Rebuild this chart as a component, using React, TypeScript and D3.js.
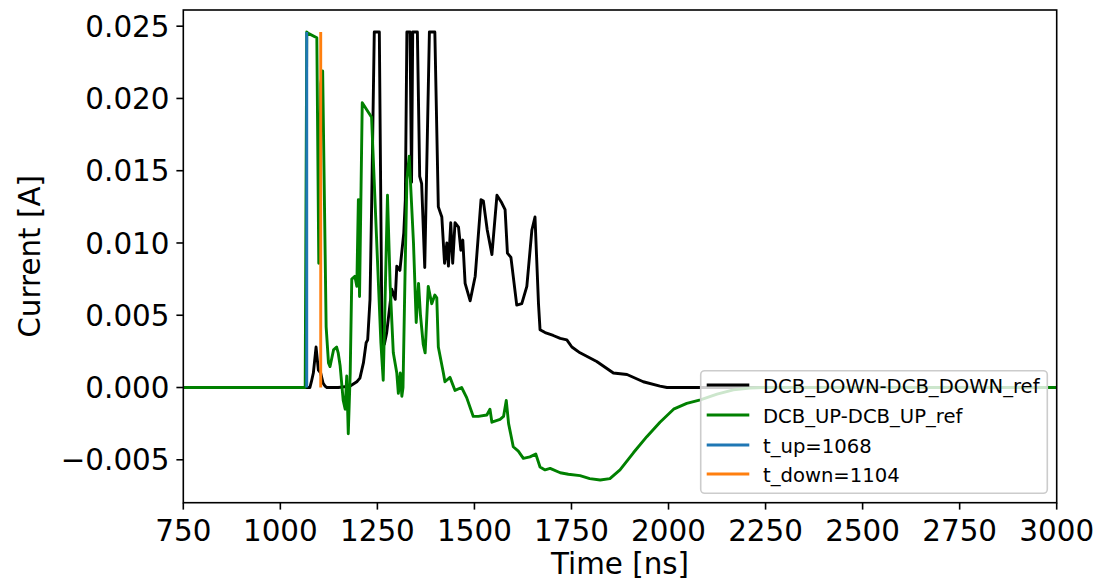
import React from "react";
import * as d3 from "d3";

const downT = [750, 1076, 1080, 1085, 1092, 1098, 1104, 1110, 1115, 1120, 1149, 1180, 1197, 1205, 1214, 1221, 1225, 1231, 1235, 1242, 1255, 1262, 1268, 1274, 1287, 1296, 1300, 1308, 1318, 1322, 1326, 1334, 1338, 1341, 1353, 1359, 1364, 1372, 1384, 1398, 1407, 1416, 1423, 1429, 1433, 1439, 1444, 1450, 1459, 1465, 1470, 1476, 1489, 1502, 1517, 1523, 1533, 1545, 1558, 1570, 1579, 1585, 1594, 1609, 1622, 1635, 1648, 1656, 1665, 1669, 1682, 1703, 1721, 1738, 1751, 1772, 1815, 1858, 1893, 1935, 1978, 1996, 3000];
const downV = [0, 0, 0.0004, 0.001, 0.0028, 0.0012, 0.001, 0.0003, 0.0001, 0, 0, 0.0001, 0.0004, 0.00065, 0.0017, 0.0031, 0.0033, 0.0061, 0.0123, 0.0246, 0.0246, 0.0028, 0.003, 0.0038, 0.0068, 0.0061, 0.0084, 0.0081, 0.0107, 0.013, 0.0246, 0.0246, 0.0142, 0.0246, 0.0246, 0.0146, 0.0141, 0.0083, 0.0246, 0.0246, 0.0125, 0.0118, 0.0086, 0.01, 0.0084, 0.0114, 0.0086, 0.0114, 0.0111, 0.0095, 0.0102, 0.0072, 0.006, 0.0077, 0.013, 0.0129, 0.0109, 0.0092, 0.0133, 0.0128, 0.0123, 0.0093, 0.009, 0.0057, 0.0058, 0.007, 0.0109, 0.0118, 0.0058, 0.004, 0.0038, 0.0036, 0.0034, 0.0033, 0.0028, 0.0024, 0.0018, 0.001, 0.0009, 0.0004, 0.0001, 0, 0];

const upT = [750, 1064, 1068, 1072, 1094, 1099, 1104, 1109, 1118, 1124, 1128, 1137, 1145, 1149, 1154, 1162, 1167, 1171, 1175, 1180, 1184, 1192, 1197, 1201, 1204, 1208, 1211, 1235, 1259, 1265, 1276, 1283, 1291, 1300, 1304, 1309, 1313, 1316, 1321, 1326, 1332, 1343, 1350, 1356, 1361, 1368, 1373, 1381, 1390, 1398, 1403, 1407, 1420, 1424, 1437, 1450, 1467, 1480, 1497, 1510, 1532, 1540, 1545, 1566, 1575, 1582, 1588, 1600, 1613, 1626, 1643, 1658, 1669, 1682, 1695, 1721, 1742, 1772, 1797, 1824, 1849, 1875, 1910, 1944, 1978, 2013, 2047, 2082, 2125, 2167, 2210, 2250, 3000];
const upV = [0, 0, 0.0246, 0.0245, 0.0242, 0.0086, 0.021, 0.0219, 0.0042, 0.0017, 0.00145, 0.0026, 0.0028, 0.0024, 0.0015, -0.0009, -0.0015, 0.0008, -0.0032, 0.001, 0.0075, 0.0077, 0.007, 0.013, 0.0063, 0.014, 0.0197, 0.0187, 0.0031, 0.0005, 0.0133, 0.007, 0.0024, 0.001, -0.0004, 0.001, -0.0006, 0, 0.0075, 0.0144, 0.016, 0.01, 0.0045, 0.0072, 0.005, 0.003, 0.0024, 0.007, 0.0058, 0.0064, 0.0062, 0.0028, 0.001, 0.0004, 0.0007, -0.0002, 0, -0.0007, -0.002, -0.002, -0.0019, -0.0015, -0.0024, -0.0022, -0.002, -0.0009, -0.0025, -0.0041, -0.0044, -0.0049, -0.0048, -0.0046, -0.0055, -0.0057, -0.0056, -0.0059, -0.006, -0.0061, -0.0063, -0.0064, -0.0063, -0.0057, -0.0045, -0.0034, -0.0024, -0.0015, -0.0011, -0.00085, -0.00046, -0.00016, -0.00003, 0, 0];

const tUp = 1068;
const tDown = 1104;
const markerTop = 0.0246;

const xTicks = [750, 1000, 1250, 1500, 1750, 2000, 2250, 2500, 2750, 3000];
const yTicks = [-0.005, 0, 0.005, 0.01, 0.015, 0.02, 0.025];

const legendLabels = ["DCB_DOWN-DCB_DOWN_ref", "DCB_UP-DCB_UP_ref", `t_up=${tUp}`, `t_down=${tDown}`];
const legendColors = ["#000000", "#008000", "#1f77b4", "#ff7f0e"];

const W = 1101, H = 583;
const L = 183.3, R = 1056.7, T = 10, B = 502.7;
const FONT = "DejaVu Sans, sans-serif";

export default function App() {
  const x = d3.scaleLinear().domain([750, 3000]).range([L, R]);
  const y = d3.scaleLinear().domain([-0.00797, 0.02612]).range([B, T]);
  const line = d3.line<[number, number]>().x(d => x(d[0])).y(d => y(d[1]));
  const down = line(downT.map((t, i) => [t, downV[i]] as [number, number])) || "";
  const up = line(upT.map((t, i) => [t, upV[i]] as [number, number])) || "";
  const fmt = (v: number) => (v < 0 ? "\u2212" : "") + Math.abs(v).toFixed(3);

  const legX = 700.7, legY = 370.7, legW = 346.6, legH = 122.6;
  const rowY = [385, 415, 445, 474];

  return (
    <svg width={W} height={H} style={{ position: "absolute", left: 0, top: 0, background: "#fff" }} fontFamily={FONT}>
      <defs>
        <clipPath id="plot">
          <rect x={L} y={T} width={R - L} height={B - T} />
        </clipPath>
      </defs>
      <g clipPath="url(#plot)" fill="none" strokeLinejoin="round">
        <path d={down} stroke="#000000" strokeWidth={2.9} />
        <path d={up} stroke="#008000" strokeWidth={2.9} />
        <line x1={x(tUp)} x2={x(tUp)} y1={y(0)} y2={y(markerTop)} stroke="#1f77b4" strokeWidth={2.9} />
        <line x1={x(tDown)} x2={x(tDown)} y1={y(0)} y2={y(markerTop)} stroke="#ff7f0e" strokeWidth={2.9} />
      </g>
      <rect x={L} y={T} width={R - L} height={B - T} fill="none" stroke="#000" strokeWidth={1.6} />
      {xTicks.map(t => (
        <g key={"x" + t}>
          <line x1={x(t)} x2={x(t)} y1={B} y2={B + 6.9} stroke="#000" strokeWidth={1.6} />
          <text x={x(t)} y={540.5} textAnchor="middle" fontSize={29.4} fill="#000">{t}</text>
        </g>
      ))}
      {yTicks.map(v => (
        <g key={"y" + v}>
          <line x1={L - 6.9} x2={L} y1={y(v)} y2={y(v)} stroke="#000" strokeWidth={1.6} />
          <text x={L - 13.8} y={y(v)} dy="0.36em" textAnchor="end" fontSize={29.4} fill="#000">{fmt(v)}</text>
        </g>
      ))}
      <text x={(L + R) / 2} y={574} textAnchor="middle" fontSize={29.4} fill="#000">Time [ns]</text>
      <text transform={`translate(40,${(T + B) / 2}) rotate(-90)`} textAnchor="middle" fontSize={29.4} fill="#000">Current [A]</text>
      <rect x={legX} y={legY} width={legW} height={legH} rx={4} ry={4} fill="#ffffff" fillOpacity={0.8} stroke="#cccccc" strokeWidth={1.6} />
      {legendLabels.map((lab, i) => (
        <g key={lab}>
          <line x1={706.7} x2={749.3} y1={rowY[i]} y2={rowY[i]} stroke={legendColors[i]} strokeWidth={2.9} />
          <text x={763} y={rowY[i] + 7.5} fontSize={19.6} fill="#000">{lab}</text>
        </g>
      ))}
    </svg>
  );
}
